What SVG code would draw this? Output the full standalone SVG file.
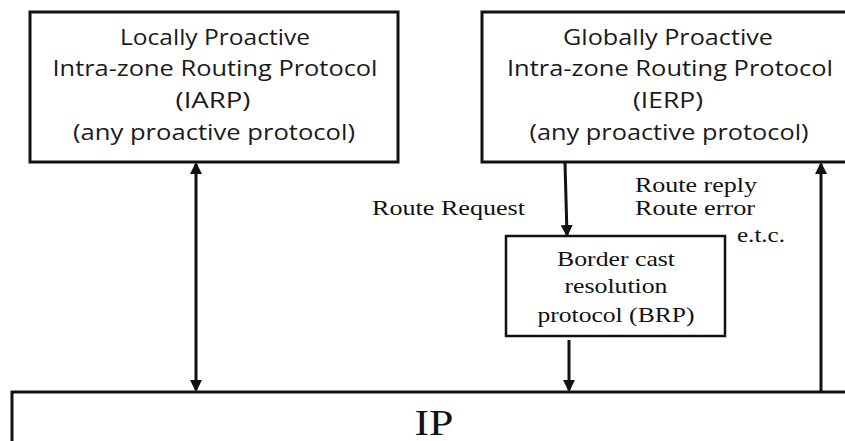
<svg xmlns="http://www.w3.org/2000/svg" width="845" height="441" viewBox="0 0 845 441">
<style>
.box{fill:#fff;stroke:#111;stroke-width:3}
.sbox{fill:#fff;stroke:#111;stroke-width:2.5}
.sans{font-family:"Open Sans","Liberation Sans",sans-serif;font-size:21px;fill:#1a1a1a;text-anchor:middle}
.serif{font-family:"Liberation Serif","Times New Roman",serif;font-size:21px;fill:#111}
.big{font-family:"Liberation Serif","Times New Roman",serif;font-size:35px;fill:#111;text-anchor:middle}
.line{stroke:#111;stroke-width:3;fill:none}
</style>
<defs>
<marker id="ah" markerWidth="12" markerHeight="12" refX="10" refY="6" orient="auto" markerUnits="userSpaceOnUse" viewBox="0 0 12 12">
<path d="M0,0 L12,6 L0,12 z" fill="#111"/>
</marker>
<marker id="ahs" markerWidth="12" markerHeight="12" refX="10" refY="6" orient="auto-start-reverse" markerUnits="userSpaceOnUse" viewBox="0 0 12 12">
<path d="M0,0 L12,6 L0,12 z" fill="#111"/>
</marker>
</defs>
<g id="ip">
<rect class="box" x="12" y="392" width="850" height="80"/>
<text class="big" x="434" y="435" textLength="39" lengthAdjust="spacingAndGlyphs">IP</text>
</g>
<g id="iarp">
<rect class="box" x="30" y="12" width="368" height="150"/>
<text class="sans" x="215" y="45" textLength="190" lengthAdjust="spacingAndGlyphs">Locally Proactive</text>
<text class="sans" x="215" y="76" textLength="325" lengthAdjust="spacingAndGlyphs">Intra-zone Routing Protocol</text>
<text class="sans" x="213" y="108" textLength="75" lengthAdjust="spacingAndGlyphs">(IARP)</text>
<text class="sans" x="214" y="140" textLength="282" lengthAdjust="spacingAndGlyphs">(any proactive protocol)</text>
</g>
<g id="ierp">
<rect class="box" x="482" y="12" width="380" height="150"/>
<text class="sans" x="668" y="45" textLength="210" lengthAdjust="spacingAndGlyphs">Globally Proactive</text>
<text class="sans" x="670" y="76" textLength="326" lengthAdjust="spacingAndGlyphs">Intra-zone Routing Protocol</text>
<text class="sans" x="668" y="108" textLength="70" lengthAdjust="spacingAndGlyphs">(IERP)</text>
<text class="sans" x="669" y="140" textLength="279" lengthAdjust="spacingAndGlyphs">(any proactive protocol)</text>
</g>
<g id="brp">
<rect class="sbox" x="506" y="236" width="219" height="100"/>
<text class="serif" x="616" y="266" text-anchor="middle" textLength="118" lengthAdjust="spacingAndGlyphs">Border cast</text>
<text class="serif" x="616" y="293" text-anchor="middle" textLength="103" lengthAdjust="spacingAndGlyphs">resolution</text>
<text class="serif" x="616" y="322" text-anchor="middle" textLength="157" lengthAdjust="spacingAndGlyphs">protocol (BRP)</text>
</g>
<g id="connectors">
<line class="line" x1="196" y1="164" x2="196" y2="390" marker-start="url(#ahs)" marker-end="url(#ah)"/>
<line class="line" x1="565" y1="163" x2="567" y2="235" marker-end="url(#ah)"/>
<line class="line" x1="569" y1="340" x2="569" y2="390" marker-end="url(#ah)"/>
<line class="line" x1="821" y1="392" x2="821" y2="164" marker-end="url(#ah)"/>
</g>
<g id="labels">
<text class="serif" x="372" y="215" textLength="153" lengthAdjust="spacingAndGlyphs">Route Request</text>
<text class="serif" x="635" y="192" textLength="122" lengthAdjust="spacingAndGlyphs">Route reply</text>
<text class="serif" x="635" y="215" textLength="120" lengthAdjust="spacingAndGlyphs">Route error</text>
<text class="serif" x="737" y="242" textLength="48" lengthAdjust="spacingAndGlyphs">e.t.c.</text>
</g>
</svg>
